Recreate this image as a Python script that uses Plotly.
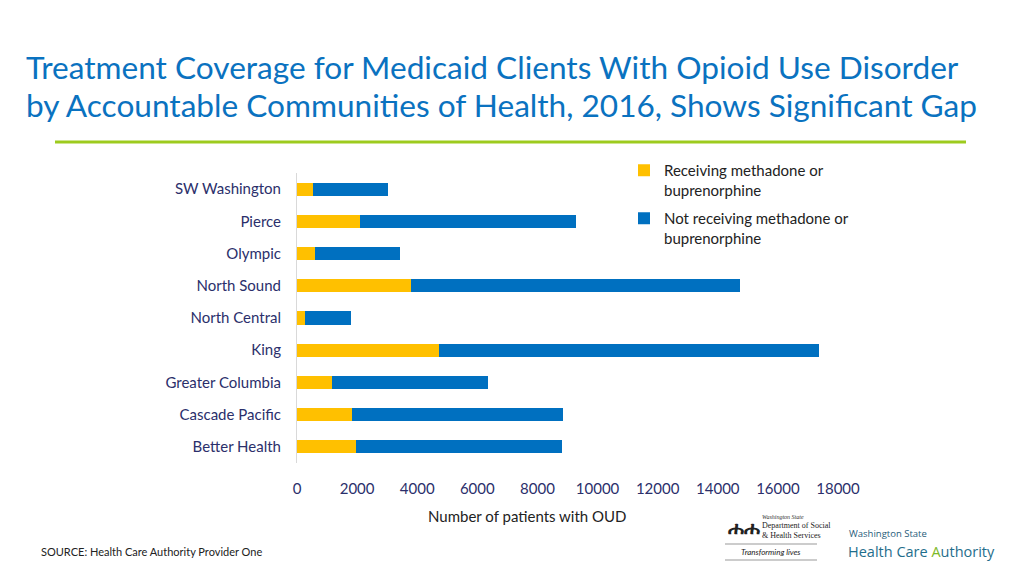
import plotly.graph_objects as go

categories = ["SW Washington", "Pierce", "Olympic", "North Sound", "North Central",
              "King", "Greater Columbia", "Cascade Pacific", "Better Health"]
receiving = [530, 2100, 610, 3790, 270, 4740, 1170, 1840, 1960]
totals = [3030, 9290, 3440, 14730, 1800, 17380, 6370, 8860, 8830]
not_receiving = [t - r for t, r in zip(totals, receiving)]
tick_vals = list(range(0, 18001, 2000))
tick_text = [str(v) for v in tick_vals]

navy = "#2B2F6B"
font_family = "Lato, 'Open Sans', sans-serif"

L, R, T, B = 297, 838, 173, 463
W, H = R - L, B - T


def px(x):
    return (x - L) / W


def py(y):
    return (B - y) / H


fig = go.Figure()
fig.add_trace(go.Bar(
    y=categories, x=receiving, orientation="h",
    name="Receiving methadone or<br>buprenorphine", legendgroup="a",
    marker=dict(color="#FFC000", line=dict(width=0)), width=0.41,
))
fig.add_trace(go.Bar(
    y=categories, x=not_receiving, orientation="h",
    name="Not receiving methadone or<br>buprenorphine", legendgroup="b",
    marker=dict(color="#0070C0", line=dict(width=0)), width=0.41,
))

fig.update_layout(
    width=1024, height=576,
    barmode="stack",
    plot_bgcolor="white", paper_bgcolor="white",
    margin=dict(l=L, r=1024 - R, t=T, b=576 - B),
    font=dict(family=font_family, size=15, color=navy),
    xaxis=dict(range=[0, 18000], tickvals=tick_vals, ticktext=tick_text,
               showgrid=False, zeroline=False, showline=False,
               ticks="outside", ticklen=12, tickcolor="rgba(0,0,0,0)",
               tickfont=dict(size=15, color=navy)),
    yaxis=dict(autorange="reversed", showgrid=False, zeroline=False,
               showline=True, linecolor="#D9D9D9", linewidth=1,
               ticks="outside", ticklen=12, tickcolor="rgba(0,0,0,0)",
               tickfont=dict(size=15, color=navy)),
    legend=dict(x=px(624), y=py(154), xanchor="left", yanchor="top",
                traceorder="grouped", font=dict(size=15, color="#222222"),
                itemwidth=30, tracegroupgap=6, valign="top",
                bgcolor="rgba(0,0,0,0)"),
)

# x-axis title
fig.add_annotation(text="Number of patients with OUD", xref="paper", yref="paper",
                   x=px(527), y=py(516), xanchor="center", yanchor="middle", showarrow=False,
                   font=dict(size=15, color="#222222", family=font_family))

# Title
fig.add_annotation(text="Treatment Coverage for Medicaid Clients With Opioid Use Disorder",
                   xref="paper", yref="paper", x=px(24), y=py(67),
                   xanchor="left", yanchor="middle", showarrow=False,
                   font=dict(size=31.6, color="#0A72C0", family=font_family))
fig.add_annotation(text="by Accountable Communities of Health, 2016, Shows Significant Gap",
                   xref="paper", yref="paper", x=px(24), y=py(105),
                   xanchor="left", yanchor="middle", showarrow=False,
                   font=dict(size=31.6, color="#0A72C0", family=font_family))
# Green rule
fig.add_shape(type="line", xref="paper", yref="paper",
              x0=px(55), x1=px(966), y0=py(142), y1=py(142),
              line=dict(color="#9DCB1E", width=3))

# Source
fig.add_annotation(text="SOURCE: Health Care Authority Provider One",
                   xref="paper", yref="paper", x=px(39), y=py(551),
                   xanchor="left", yanchor="middle", showarrow=False,
                   font=dict(size=11, color="#222222", family=font_family))

# DSHS logo (text approximation)
fig.add_annotation(text="<i>Washington State</i>", xref="paper", yref="paper",
                   x=px(760), y=py(517), xanchor="left", yanchor="middle",
                   showarrow=False, font=dict(size=6, color="#333333", family="Liberation Serif"))
fig.add_annotation(text="Department of Social<br>&amp; Health Services", xref="paper", yref="paper",
                   x=px(760), y=py(530), xanchor="left", yanchor="middle",
                   showarrow=False, align="left",
                   font=dict(size=8, color="#222222", family="Liberation Serif"))
fig.add_annotation(text="<b>ሐሐ</b>", xref="paper", yref="paper",
                   x=px(726), y=py(528), xanchor="left", yanchor="middle",
                   showarrow=False, font=dict(size=20, color="#222222", family="Liberation Serif"))
fig.add_shape(type="line", xref="paper", yref="paper",
              x0=px(725), x1=px(817), y0=py(544), y1=py(544), line=dict(color="#999999", width=1))
fig.add_annotation(text="<i>Transforming lives</i>", xref="paper", yref="paper",
                   x=px(771), y=py(552), xanchor="center", yanchor="middle",
                   showarrow=False, font=dict(size=8, color="#222222", family=font_family))
fig.add_shape(type="line", xref="paper", yref="paper",
              x0=px(725), x1=px(817), y0=py(560), y1=py(560), line=dict(color="#999999", width=1))

# HCA logo (text approximation)
fig.add_annotation(text="Washington State", xref="paper", yref="paper",
                   x=px(847), y=py(533), xanchor="left", yanchor="middle",
                   showarrow=False, font=dict(size=9.5, color="#1F5C7A", family="Open Sans"))
fig.add_annotation(text="Health Care <span style='color:#7DB928'>A</span>uthority",
                   xref="paper", yref="paper",
                   x=px(846), y=py(551), xanchor="left", yanchor="middle",
                   showarrow=False, font=dict(size=14.5, color="#1F6E8C", family="Open Sans"))

fig.write_html("out.html", post_script="document.body.style.margin='0';",
               config={"displayModeBar": False})
